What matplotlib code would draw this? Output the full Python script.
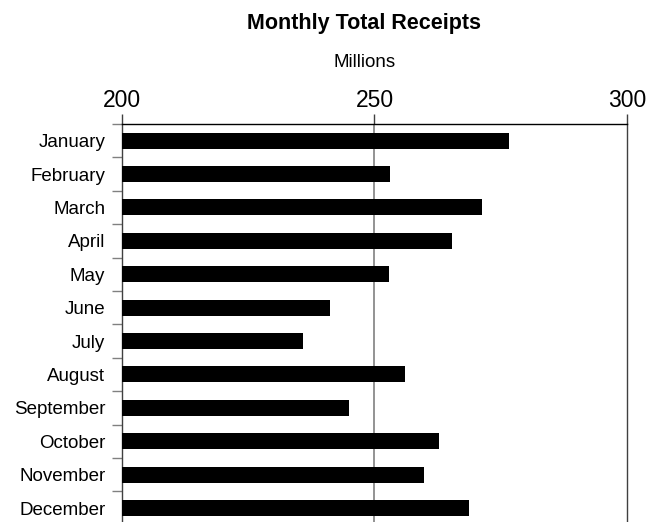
import numpy as np
import matplotlib
matplotlib.use("Agg")
from matplotlib import pyplot as plt

months = ["January", "February", "March", "April", "May", "June", "July",
          "August", "September", "October", "November", "December"]
receipts = [276.7, 253.1, 271.2, 265.3, 252.8, 241.2, 235.8,
            256.0, 245.0, 262.7, 259.9, 268.7]
x_ticks = [200, 250, 300]

plt.rcParams['font.family'] = ['Liberation Sans', 'DejaVu Sans']

fig = plt.figure(figsize=(6.6, 5.22), dpi=100)
ax = fig.add_axes([0.1848, -0.0052, 0.7652, 0.7677])

pos = np.arange(len(months))
ax.barh(pos, [r - 200 for r in receipts], left=200, height=0.48,
        color="black", zorder=3)

ax.set_xlim(200, 300)
ax.set_ylim(len(months) - 0.5, -0.5)

# value axis on top
ax.xaxis.tick_top()
ax.set_xticks(x_ticks)
ax.set_xticklabels([str(t) for t in x_ticks], fontsize=16.5)
ax.tick_params(axis="x", length=7, width=1, color="#404040", pad=1.5)
ax.axvline(250, color="#808080", lw=1.2, zorder=1)

# category axis: ticks between bars
ax.set_yticks(pos)
ax.set_yticklabels(months, fontsize=13.5)
ax.set_yticks(np.arange(len(months) + 1) - 0.5, minor=True)
ax.tick_params(axis="y", which="major", length=0, pad=12)
ax.tick_params(axis="y", which="minor", length=7, width=1, color="#808080")

for side in ["top", "left", "right"]:
    ax.spines[side].set_color("black")
    ax.spines[side].set_linewidth(1)
ax.spines["left"].set_color("#404040")
ax.spines["right"].set_color("#404040")
ax.spines["bottom"].set_visible(False)

fig.text(0.551, 0.955, "Monthly Total Receipts", ha="center", va="center",
         fontsize=15.5, fontweight="bold")
fig.text(0.553, 0.880, "Millions", ha="center", va="center", fontsize=13.5)

fig.savefig("out.png", dpi=100)
